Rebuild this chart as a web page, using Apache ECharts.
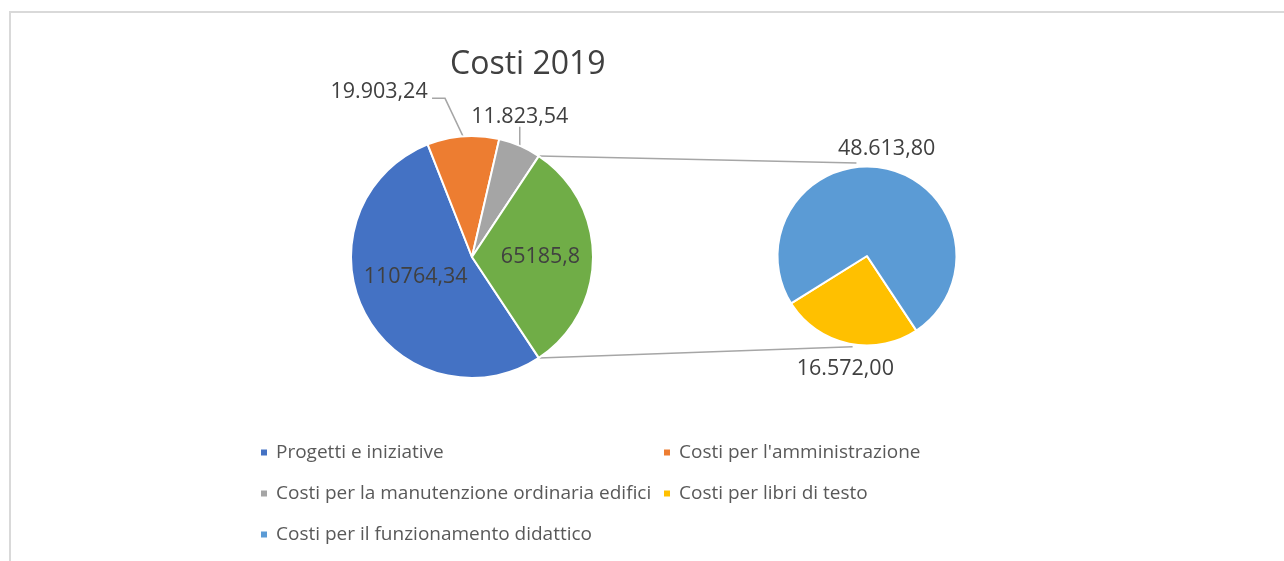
<!DOCTYPE html>
<html><head><meta charset="utf-8">
<script src="https://cdn.jsdelivr.net/npm/echarts@6/dist/echarts.min.js"></script>
<style>html,body{margin:0;padding:0;background:#fff}#c{width:1284px;height:561px}</style>
</head><body><div id="c"></div>
<script>
// ---- data ----
const chartTitle = 'Costi 2019';
const mainNames = ['Progetti e iniziative', "Costi per l'amministrazione", 'Costi per la manutenzione ordinaria edifici', 'Altro'];
const mainValues = [110764.34, 19903.24, 11823.54, 65185.8];
const mainLabelFormat = ['plain', 'it', 'it', 'plain'];
const subNames = ['Costi per libri di testo', 'Costi per il funzionamento didattico'];
const subValues = [16572.00, 48613.80];
const legendNames = ['Progetti e iniziative', "Costi per l'amministrazione", 'Costi per la manutenzione ordinaria edifici', 'Costi per libri di testo', 'Costi per il funzionamento didattico'];
const mainColors = ['#4472C4', '#ED7D31', '#A5A5A5', '#70AD47'];
const subColors = ['#FFC000', '#5B9BD5'];

// ---- layout ----
const FONT = "'Open Sans', 'Noto Sans', sans-serif";
const C1 = [472, 257], R1 = 121;
const C2 = [867, 256], R2 = 89.5;

function fmtIt(v) {
  const s = v.toFixed(2).split('.');
  return s[0].replace(/\B(?=(\d{3})+(?!\d))/g, '.') + ',' + s[1];
}
function fmtPlain(v) { return String(Math.round(v * 100) / 100).replace('.', ','); }
function sum(a) { return a.reduce((x, y) => x + y, 0); }
function midAngle(vals, i, start) {
  const tot = sum(vals); let acc = 0;
  for (let k = 0; k < i; k++) acc += vals[k];
  return start - (acc + vals[i] / 2) / tot * 360;
}
function edgeAngle(vals, i, start) { // angle at end of slice i
  const tot = sum(vals); let acc = 0;
  for (let k = 0; k <= i; k++) acc += vals[k];
  return start - acc / tot * 360;
}
function pt(c, r, a) { const t = a * Math.PI / 180; return [c[0] + r * Math.cos(t), c[1] - r * Math.sin(t)]; }

const startAngle = -(mainValues[3] / sum(mainValues) * 360) / 2;

// connector lines between the "other" slice and the second pie
const otherTop = pt(C1, R1, edgeAngle(mainValues, 2, startAngle));
const otherBottom = pt(C1, R1, edgeAngle(mainValues, 3, startAngle) + 360);
const subTop = pt(C2, R2 + 4, 96.5);
const subBottom = pt(C2, R2 + 2.5, -99);

const labelOffsets = {1: {lab: [-84, -44], line: [[-18, -38], [-31, -38]]}, 2: {lab: [0, -29], line: [[0, -19]]}};
const insideShift = {0: [0, -9], 3: [5, 0]};
const subShift = [[2, 4], [-4, 2]];

const chart = echarts.init(document.getElementById('c'), null, {renderer: 'canvas'});
chart.setOption({
  backgroundColor: '#ffffff',
  animation: false,
  title: {text: chartTitle, left: 445, top: 44, textStyle: {fontFamily: FONT, fontSize: 32, fontWeight: 'normal', color: '#404040'}},
  legend: {
    data: legendNames, left: 254, top: 431, width: 820, orient: 'horizontal',
    icon: 'rect', itemWidth: 8, itemHeight: 8, itemGap: 8, selectedMode: false,
    textStyle: {fontFamily: FONT, fontSize: 19, color: '#595959', width: 378, padding: [0, 0, 0, 3], lineHeight: 33}
  },
  graphic: [
    {type: 'rect', z: -10, shape: {x: 10, y: 12, width: 1320, height: 620}, style: {fill: 'none', stroke: '#d9d9d9', lineWidth: 2}},
    {type: 'polyline', z: 1, shape: {points: [otherTop, subTop]}, style: {stroke: '#a6a6a6', lineWidth: 1.5, fill: 'none'}},
    {type: 'polyline', z: 1, shape: {points: [otherBottom, subBottom]}, style: {stroke: '#a6a6a6', lineWidth: 1.5, fill: 'none'}}
  ],
  series: [
    {
      type: 'pie', center: C1, radius: R1, startAngle: startAngle, clockwise: true,
      avoidLabelOverlap: false, silent: true,
      itemStyle: {borderColor: '#fff', borderWidth: 2},
      label: {show: true, position: 'outside', fontFamily: FONT, fontSize: 21.5, color: '#404040',
        formatter: p => mainLabelFormat[p.dataIndex] === 'it' ? fmtIt(p.value) : fmtPlain(p.value)},
      labelLine: {show: true, length: 10, length2: 10, smooth: false, lineStyle: {color: '#a6a6a6', width: 1.5}},
      labelLayout: function (p) {
        const i = p.dataIndex;
        if (insideShift[i]) return {dx: insideShift[i][0], dy: insideShift[i][1]};
        const o = labelOffsets[i];
        if (!o) return {};
        const anc = pt(C1, R1, midAngle(mainValues, i, startAngle));
        return {
          x: anc[0] + o.lab[0], y: anc[1] + o.lab[1], align: 'center', verticalAlign: 'middle',
          labelLinePoints: [anc].concat(o.line.map(d => [anc[0] + d[0], anc[1] + d[1]]))
        };
      },
      data: mainNames.map((n, i) => {
        const d = {name: n, value: mainValues[i], itemStyle: {color: mainColors[i]}};
        if (i === 0 || i === 3) d.label = {position: 'inside'};
        return d;
      })
    },
    {
      type: 'pie', center: C2, radius: R2, startAngle: startAngle, clockwise: true,
      avoidLabelOverlap: false, silent: true,
      itemStyle: {borderColor: '#fff', borderWidth: 2},
      label: {show: true, position: 'outside', fontFamily: FONT, fontSize: 21.5, color: '#404040',
        formatter: p => fmtIt(p.value)},
      labelLine: {show: false},
      labelLayout: function (p) {
        const a = pt(C2, R2 + 22, midAngle(subValues, p.dataIndex, startAngle));
        const s = subShift[p.dataIndex];
        return {x: a[0] + s[0], y: a[1] + s[1], align: 'center', verticalAlign: 'middle'};
      },
      data: subNames.map((n, i) => ({name: n, value: subValues[i], itemStyle: {color: subColors[i]}}))
    }
  ]
});
</script>
</body></html>
